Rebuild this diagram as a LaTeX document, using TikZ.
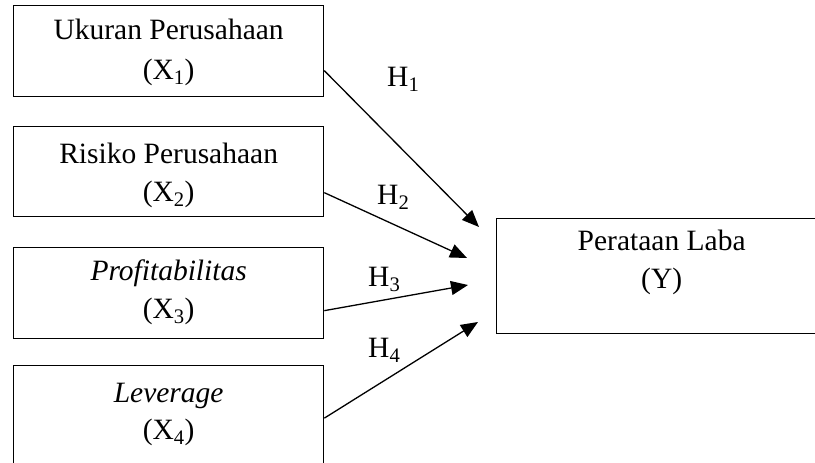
\documentclass[tikz,border=0pt]{standalone}
\usepackage{fontspec}
\setmainfont{Liberation Serif}
\usetikzlibrary{arrows.meta}
% #1 box height, #2 first-baseline offset, #3 line skip, #4 line 1, #5 line 2
\newcommand{\bxtext}[5]{\fontsize{29.5pt}{#3}\selectfont\parbox[c][#1][t]{300pt}{\centering\rule{0pt}{#2}#4\\#5}}
\tikzset{
  lbox/.style={draw, line width=1.3pt, inner sep=0pt, anchor=north west, minimum width=310pt},
  rbox/.style={draw, line width=1.3pt, inner sep=0pt, anchor=north west, minimum width=330pt},
  hlbl/.style={inner sep=0pt, anchor=base west, font=\fontsize{29.5pt}{36pt}\selectfont},
  conn/.style={line width=1.3pt, -{Triangle[length=17pt,width=14pt]}}
}
\begin{document}
\begin{tikzpicture}[x=1pt,y=1pt]
\useasboundingbox (0,0) rectangle (815,-463);
\node[lbox] (x1) at (13,-5)   {\bxtext{91pt}{34pt}{40pt}{Ukuran Perusahaan}{(X\textsubscript{1})}};
\node[lbox] (x2) at (13,-126) {\bxtext{90pt}{37pt}{38pt}{Risiko Perusahaan}{(X\textsubscript{2})}};
\node[lbox] (x3) at (13,-247) {\bxtext{91pt}{33pt}{38pt}{\textit{Profitabilitas}}{(X\textsubscript{3})}};
\node[lbox] (x4) at (13,-365) {\bxtext{115pt}{37pt}{37pt}{\textit{Leverage}}{(X\textsubscript{4})}};
\node[rbox] (y)  at (496,-218) {\bxtext{115pt}{32pt}{38pt}{Perataan Laba}{(Y)}};
\coordinate (t1) at (479,-227);
\coordinate (t2) at (467,-258);
\coordinate (t3) at (468,-285);
\coordinate (t4) at (478,-322);
\draw[conn] ([yshift=-19.5pt]x1.east) -- (t1);
\draw[conn] ([yshift=-21pt]x2.east) -- (t2);
\draw[conn] ([yshift=-17.5pt]x3.east) -- (t3);
\draw[conn] ([yshift=5pt]x4.east) -- (t4);
\node[hlbl] (h1) at (387,-86)  {H\textsubscript{1}};
\node[hlbl] (h2) at (377,-204) {H\textsubscript{2}};
\node[hlbl] (h3) at (368,-286) {H\textsubscript{3}};
\node[hlbl] (h4) at (368,-357) {H\textsubscript{4}};
\end{tikzpicture}
\end{document}
